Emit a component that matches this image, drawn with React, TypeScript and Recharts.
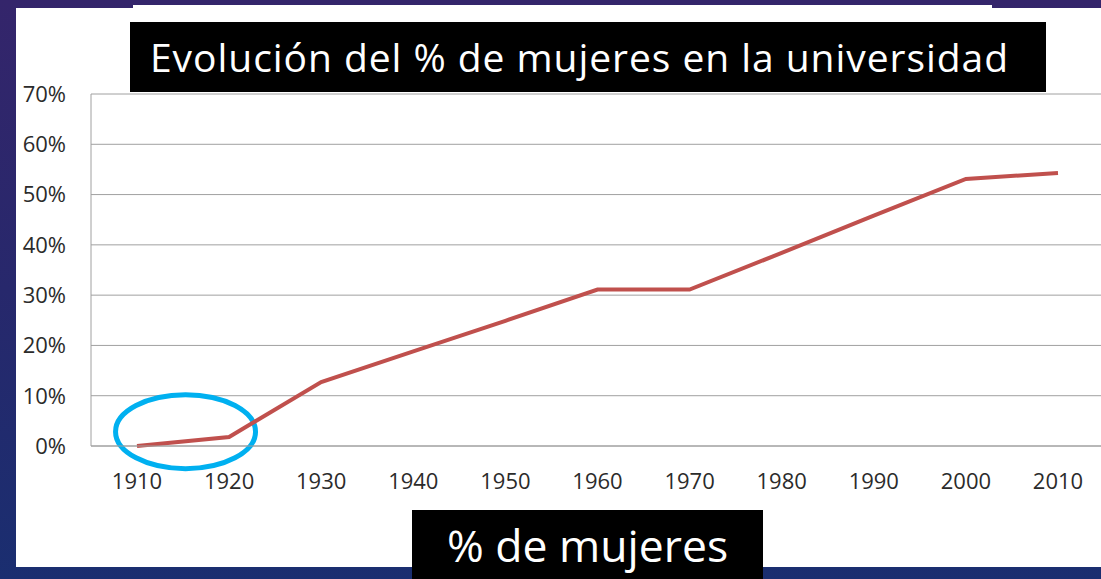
import React from 'react';
import { LineChart, Line, XAxis, YAxis, CartesianGrid, ReferenceArea } from 'recharts';

const years = ['1910', '1920', '1930', '1940', '1950', '1960', '1970', '1980', '1990', '2000', '2010'];
const womenPct = [0, 1.8, 12.7, 18.8, 24.9, 31.1, 31.1, 38.4, 45.8, 53.1, 54.3];
const yTicks = [0, 10, 20, 30, 40, 50, 60, 70];

const data = years.map((year, i) => ({ year, pct: womenPct[i] }));

const FONT = '"Open Sans", sans-serif';

// blue ring drawn around the 1910-1920 segment
const Ring = (props: any) => {
  const { x, y, width, height } = props;
  return (
    <ellipse
      cx={x + width * 0.527}
      cy={y + height / 2}
      rx={width * 0.76}
      ry={height / 2}
      fill="none"
      stroke="#00b0f0"
      strokeWidth={5}
    />
  );
};

export default function App() {
  return (
    <div
      style={{
        position: 'absolute',
        left: 0,
        top: 0,
        width: 1101,
        height: 579,
        overflow: 'hidden',
        background: 'linear-gradient(180deg, #34256b 0%, #27286c 50%, #1a2e70 100%)',
        fontFamily: FONT,
      }}
    >
      <div style={{ position: 'absolute', left: 16, top: 8, width: 1085, height: 559, background: '#fff' }} />
      <div style={{ position: 'absolute', left: 133, top: 5, width: 859, height: 4, background: '#fff' }} />

      <div style={{ position: 'absolute', left: 0, top: 0 }}>
        <LineChart width={1110} height={579} data={data} margin={{ top: 94, right: 6, left: 31, bottom: 103 }}>
          <CartesianGrid vertical={false} stroke="#a0a0a0" strokeWidth={1} />
          <XAxis
            dataKey="year"
            height={30}
            padding={{ left: 46, right: 46 }}
            tickLine={false}
            tickSize={0}
            tickMargin={27}
            axisLine={{ stroke: '#a0a0a0' }}
            tick={{ fontSize: 22, fill: '#2b2b2b', fontFamily: FONT }}
            interval={0}
          />
          <YAxis
            width={60}
            domain={[0, 70]}
            ticks={yTicks}
            tickFormatter={(v) => `${v}%`}
            tickLine={false}
            tickSize={0}
            tickMargin={25}
            axisLine={{ stroke: '#a0a0a0' }}
            tick={{ fontSize: 22, fill: '#2b2b2b', fontFamily: FONT }}
          />
          <Line
            type="linear"
            dataKey="pct"
            stroke="#c0504d"
            strokeWidth={4}
            dot={false}
            activeDot={false}
            isAnimationActive={false}
          />
          <ReferenceArea x1="1910" x2="1920" y1={-4.5} y2={10.2} ifOverflow="visible" shape={<Ring />} />
        </LineChart>
      </div>

      <div
        style={{
          position: 'absolute',
          left: 130,
          top: 22,
          width: 916,
          height: 70,
          background: '#000',
          color: '#fff',
          fontSize: 39,
          letterSpacing: 0.95,
          lineHeight: '70px',
          paddingLeft: 20,
          boxSizing: 'border-box',
          whiteSpace: 'nowrap',
        }}
      >
        Evolución del % de mujeres en la universidad
      </div>

      <div
        style={{
          position: 'absolute',
          left: 412,
          top: 510,
          width: 351,
          height: 69,
          background: '#000',
          color: '#fff',
          fontSize: 44.5,
          lineHeight: '69px',
          paddingLeft: 35,
          boxSizing: 'border-box',
          whiteSpace: 'nowrap',
        }}
      >
        % de mujeres
      </div>
    </div>
  );
}
